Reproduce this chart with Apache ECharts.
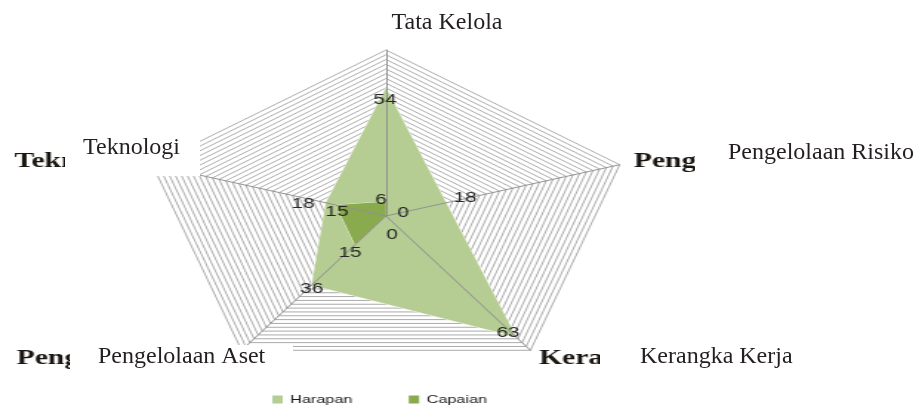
<!DOCTYPE html>
<html>
<head>
<meta charset="utf-8">
<script src="https://cdn.jsdelivr.net/npm/echarts@6/dist/echarts.min.js"></script>
<style>
  html, body { margin: 0; padding: 0; background: #fff; }
  #wrap { position: relative; width: 917px; height: 410px; overflow: hidden; }
  /* the source picture is stretched sideways, so the radar layer is too */
  #radar { position: absolute; left: 0; top: 0; width: 620px; height: 410px; transform: scaleX(1.48); transform-origin: 0 0; }
  #labels { position: absolute; left: 0; top: 0; width: 917px; height: 410px; }
</style>
</head>
<body>
<div id="wrap">
  <div id="radar"></div>
  <div id="labels"></div>
</div>
<script>
// indicators in ECharts order (top, then counter-clockwise)
const categories = ["Tata Kelola", "Teknologi", "Pengelolaan Aset", "Kerangka Kerja", "Pengelolaan Risiko"];
const harapan = [54, 18, 36, 63, 18];
const capaian = [6, 15, 15, 0, 0];
const seriesNames = ["Harapan", "Capaian"];
const maxValue = 70;

const STRETCH = 1.48;
const CX = 386 / STRETCH; // radar centre before the sideways stretch
const CY = 216;
const R = 166;

// where each value label sits relative to its vertex (screen px)
const harapanLabelOffset = [[-1, 12], [-23, 1], [0, 4], [-8, -4], [19, -5]];
const capaianLabelOffset = [[-5, -2], [1, 7], [-5, 8], [6, 19], [17, -3]];

const colors = { harapan: "#b5cd92", capaian: "#8aaa4e" };

const indicator = categories.map((name) => ({ name: name, min: 0, max: maxValue }));

// one invisible series per value label, so every label can get its own offset
function labelSeries(values, offsets) {
  return values.map((v, i) => ({
    type: "radar",
    radarIndex: 0,
    z: 6,
    silent: true,
    symbol: "circle",
    symbolSize: 0,
    itemStyle: { color: "transparent" },
    lineStyle: { width: 0, opacity: 0 },
    label: {
      show: true,
      position: "inside",
      offset: [offsets[i][0] / STRETCH, offsets[i][1]],
      color: "#262626",
      fontFamily: "Liberation Sans",
      fontSize: 14,
      formatter: (p) => (p.value == null || isNaN(p.value) ? "" : String(p.value)),
    },
    data: [{ value: values.map((w, j) => (j === i ? w : null)) }],
  }));
}

const radarChart = echarts.init(document.getElementById("radar"));
radarChart.setOption({
  animation: false,
  legend: {
    data: seriesNames,
    icon: "rect",
    itemWidth: 7,
    itemHeight: 8,
    itemGap: 38,
    left: 179,
    top: 389,
    textStyle: { fontFamily: "Liberation Sans", fontSize: 11, color: "#1c1c1c" },
  },
  radar: [
    {
      center: [CX, CY],
      radius: R,
      startAngle: 90,
      shape: "polygon",
      splitNumber: 35,
      indicator: indicator,
      axisNameGap: 10,
      axisName: { color: "#1a1510", fontFamily: "Liberation Serif", fontWeight: "bold", fontSize: 20 },
      splitLine: { lineStyle: { color: "#ababab", width: 1 } },
      splitArea: { show: false },
      axisLine: { show: false },
    },
    {
      // spokes drawn again above the filled areas
      center: [CX, CY],
      radius: R,
      startAngle: 90,
      shape: "polygon",
      splitNumber: 7,
      z: 5,
      indicator: indicator,
      axisName: { show: false },
      splitLine: { show: false },
      splitArea: { show: false },
      axisLine: { lineStyle: { color: "#929292", width: 1 } },
    },
  ],
  series: [
    {
      type: "radar",
      radarIndex: 0,
      z: 2,
      symbol: "none",
      silent: true,
      data: [
        {
          name: seriesNames[0],
          value: harapan,
          itemStyle: { color: colors.harapan },
          areaStyle: { color: colors.harapan, opacity: 1 },
          lineStyle: { color: "#f4f7ee", width: 1 },
        },
        {
          name: seriesNames[1],
          value: capaian,
          itemStyle: { color: colors.capaian },
          areaStyle: { color: colors.capaian, opacity: 1 },
          lineStyle: { color: "#e6eedb", width: 1 },
        },
      ],
    },
    ...labelSeries(harapan, harapanLabelOffset),
    ...labelSeries(capaian, capaianLabelOffset),
  ],
});

// plain serif labels pasted over the originals, each on a white box
const boxes = [[300, 0, 210, 40], [65, 122, 135, 54], [70, 345, 223, 33], [600, 340, 200, 38], [695, 135, 222, 45]];
const textPos = [[447, 23, "center"], [83, 148, "left"], [98, 357, "left"], [640, 357, "left"], [728, 153, "left"]];

const graphics = [];
categories.forEach((name, i) => {
  const b = boxes[i];
  graphics.push({ type: "rect", shape: { x: b[0], y: b[1], width: b[2], height: b[3] }, style: { fill: "#fff" }, z: 10 });
  graphics.push({
    type: "text",
    x: textPos[i][0],
    y: textPos[i][1],
    z: 11,
    style: {
      text: name,
      fill: "#231f20",
      font: "24px 'Liberation Serif'",
      align: textPos[i][2],
      verticalAlign: "middle",
    },
  });
});

const labelChart = echarts.init(document.getElementById("labels"));
labelChart.setOption({ animation: false, graphic: graphics });
</script>
</body>
</html>
